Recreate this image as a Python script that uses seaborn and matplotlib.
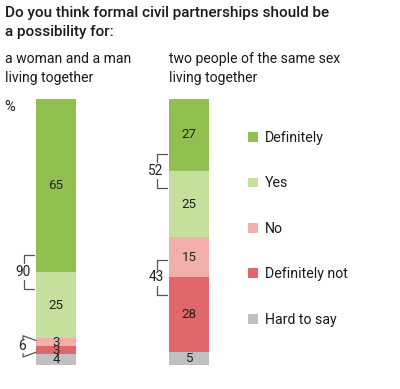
import matplotlib
matplotlib.use("Agg")
import matplotlib.pyplot as plt
from matplotlib.patches import Patch
import seaborn as sns
import pandas as pd
import numpy as np

# ---- data ----
groups = ["a woman and a man\nliving together", "two people of the same sex\nliving together"]
answers = ["Definitely", "Yes", "No", "Definitely not", "Hard to say"]
woman_man = [65, 25, 3, 3, 4]
same_sex = [27, 25, 15, 28, 5]
colors = ["#92c050", "#c5df9d", "#f3b0ab", "#e0676a", "#c0c0c0"]

W, H = 400, 389
sns.set_theme(style="white")
plt.rcParams["font.family"] = ["Roboto", "DejaVu Sans"]

fig = plt.figure(figsize=(W / 100, H / 100), dpi=100)
ax = fig.add_axes([0, 0, 1, 1])

# long-form table of cumulative tops (stack bottom-up: Hard to say ... Definitely)
rows = []
for g, vals in zip(groups, [woman_man, same_sex]):
    for i, a in enumerate(answers):
        top = sum(vals[i:])
        rows.append({"group": g, "answer": a, "top": top, "value": vals[i]})
df = pd.DataFrame(rows)

for i, a in enumerate(answers):
    sub = df[df["answer"] == a]
    sns.barplot(data=sub, x="group", y="top", order=groups, color=colors[i],
                saturation=1, width=0.3, ax=ax, edgecolor="none", linewidth=0)

# axis mapping: bar centers at px 56 & 189, y 0..100 -> px 365..99
px_per_x = 133.0
x0_px = 56.0
px_per_y = 2.66
y0_px = 365.0
ax.set_xlim(-x0_px / px_per_x, (W - x0_px) / px_per_x)
ax.set_ylim(-(H - y0_px) / px_per_y, y0_px / px_per_y)
ax.axis("off")

# value labels
for gi, vals in enumerate([woman_man, same_sex]):
    for i, v in enumerate(vals):
        top = sum(vals[i:])
        ax.text(gi, top - v / 2, str(v), ha="center", va="center",
                fontsize=9.6, color="#222222")

# brackets
lc = "#555555"
def bracket(gi, vals, label, i1, i2, slanted=False):
    bx = gi - 0.15  # left edge of bar
    mid = sum(vals[i2:])
    if not slanted:
        lo, hi = mid - 6.5, mid + 6.5
        xl = bx - 12 / px_per_x
        xr = bx - 2 / px_per_x
        ax.plot([xr, xl, xl], [hi, hi, mid + 3.2], color=lc, lw=0.9)
        ax.plot([xr, xl, xl], [lo, lo, mid - 3.2], color=lc, lw=0.9)
        ax.text(xl - 1 / px_per_x, mid, label, ha="center", va="center",
                fontsize=9.8, color="#222222", zorder=5)
    else:
        top = sum(vals[i1:])
        bot = sum(vals[i2 + 1:])
        c = (top + bot) / 2
        xl = bx - 13 / px_per_x
        ax.plot([bx, xl, xl], [top - 0.8, top + 1.0, top - 0.3], color=lc, lw=0.9)
        ax.plot([bx, xl, xl], [bot + 0.8, bot - 1.0, bot + 0.3], color=lc, lw=0.9)
        ax.text(xl - 1 / px_per_x, c, label, ha="center", va="center",
                fontsize=9.8, color="#222222", zorder=5)

bracket(0, woman_man, "90", 0, 1)
bracket(0, woman_man, "6", 2, 3, slanted=True)
bracket(1, same_sex, "52", 0, 1)
bracket(1, same_sex, "43", 2, 3)

# titles
def figy(py):
    return 1 - py / H

fig.text(5 / W, figy(6), "Do you think formal civil partnerships should be\na possibility for:",
         ha="left", va="top", fontsize=11, fontweight="medium", color="#1a1a1a",
         linespacing=1.42)
fig.text(5 / W, figy(52), groups[0], ha="left", va="top", fontsize=10.1,
         color="#1a1a1a", linespacing=1.42)
fig.text(169 / W, figy(52), groups[1], ha="left", va="top", fontsize=10.1,
         color="#1a1a1a", linespacing=1.42)
fig.text(4 / W, figy(107), "%", ha="left", va="center", fontsize=10.5, color="#1a1a1a")

# legend
handles = [Patch(facecolor=c, edgecolor="none", label=a) for a, c in zip(answers, colors)]
leg = ax.legend(handles=handles, loc="upper left",
                bbox_to_anchor=(248 / W, figy(131)), bbox_transform=fig.transFigure,
                frameon=False, fontsize=10.2, handlelength=0.7, handleheight=0.7,
                handletextpad=0.5, labelspacing=2.22, borderaxespad=0, borderpad=0)
for t in leg.get_texts():
    t.set_color("#1a1a1a")

fig.savefig("out.png", dpi=100)
